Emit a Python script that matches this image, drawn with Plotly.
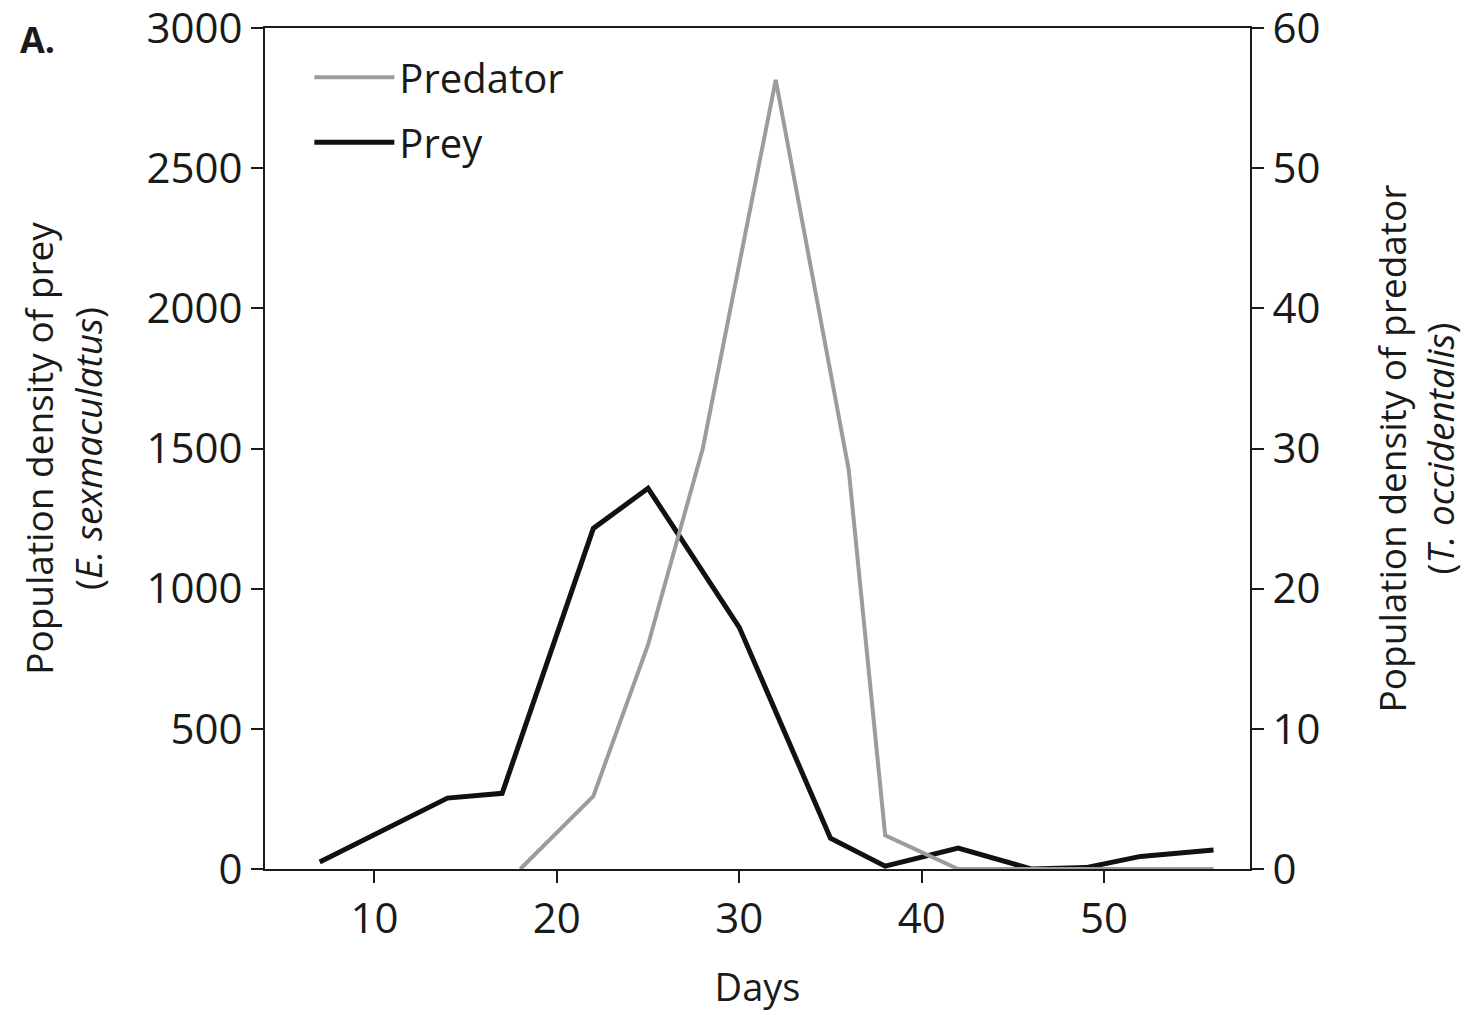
import plotly.graph_objects as go

# data
prey_days = [7, 14, 17, 22, 25, 30, 35, 38, 42, 46, 49, 52, 56]
prey_density = [25, 253, 270, 1215, 1358, 862, 110, 10, 75, 0, 5, 45, 68]

pred_days = [18, 22, 25, 28, 32, 36, 38, 42, 46, 49, 52, 56]
pred_density = [0, 5.2, 16, 30, 56.3, 28.5, 2.4, 0, 0, 0, 0, 0]

x_ticks = [10, 20, 30, 40, 50]
prey_ticks = [0, 500, 1000, 1500, 2000, 2500, 3000]
pred_ticks = [0, 10, 20, 30, 40, 50, 60]

FONT = "Open Sans"
INK = "#1a1a1a"

fig = go.Figure()

# predator (right axis)
fig.add_trace(
    go.Scatter(
        x=pred_days,
        y=pred_density,
        mode="lines",
        name="Predator",
        legendgroup="pred",
        yaxis="y2",
        line=dict(color="#9c9c9c", width=4),
    )
)

# prey (left axis)
fig.add_trace(
    go.Scatter(
        x=prey_days,
        y=prey_density,
        mode="lines",
        name="Prey",
        legendgroup="prey",
        line=dict(color="#111111", width=5),
    )
)

axis_common = dict(
    showgrid=False,
    zeroline=False,
    showline=True,
    linecolor=INK,
    linewidth=2,
    ticks="outside",
    ticklen=12,
    tickwidth=2,
    tickcolor=INK,
    automargin=False,
    ticklabeloverflow="allow",
    tickfont=dict(family=FONT, size=42, color=INK),
)

fig.update_layout(
    xaxis=dict(
        range=[4, 58],
        tickvals=x_ticks,
        mirror=True,
        title=dict(text="Days", font=dict(family=FONT, size=38, color=INK), standoff=30),
        **axis_common,
    ),
    yaxis=dict(
        range=[0, 3000],
        tickvals=prey_ticks,
        title=dict(
            text="Population density of prey<br>(<i>E. sexmaculatus</i>)",
            font=dict(family=FONT, size=37, color=INK),
            standoff=33,
        ),
        **axis_common,
    ),
    yaxis2=dict(
        range=[0, 60],
        tickvals=pred_ticks,
        overlaying="y",
        side="right",
        title=dict(
            text="Population density of predator<br>(<i>T. occidentalis</i>)",
            font=dict(family=FONT, size=37, color=INK),
            standoff=61,
        ),
        **axis_common,
    ),
    legend=dict(
        x=0.045,
        y=0.98,
        xanchor="left",
        yanchor="top",
        itemwidth=80,
        font=dict(family=FONT, size=40, color=INK),
        bgcolor="rgba(0,0,0,0)",
        tracegroupgap=10,
        traceorder="grouped",
    ),
    annotations=[
        dict(
            text="<b>A.</b>",
            x=-0.251,
            y=0.986,
            xref="paper",
            yref="paper",
            xanchor="left",
            yanchor="middle",
            showarrow=False,
            font=dict(family=FONT, size=36, color=INK),
        )
    ],
    template="simple_white",
    plot_bgcolor="#FFFFFF",
    paper_bgcolor="#FFFFFF",
    width=1465,
    height=1007,
    margin=dict(l=257, r=223, t=20, b=146),
)

fig.write_html("out.html")
